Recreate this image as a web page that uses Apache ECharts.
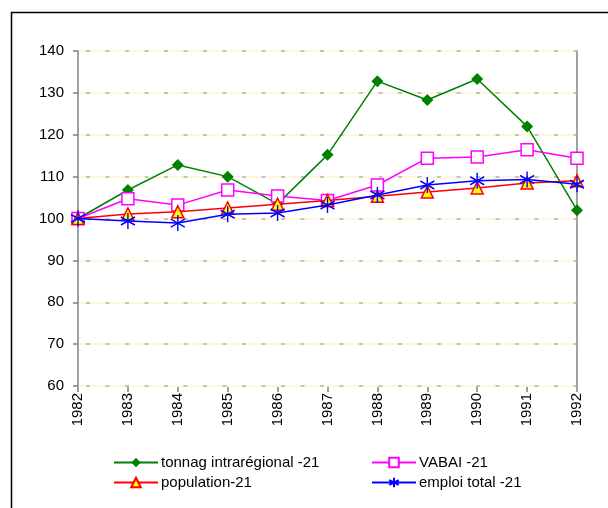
<!DOCTYPE html>
<html><head><meta charset="utf-8">
<script src="https://cdn.jsdelivr.net/npm/echarts@6/dist/echarts.min.js"></script>
<style>html,body{margin:0;padding:0;background:#fff}#c{width:608px;height:508px}</style>
</head><body><div id="c"></div>
<script>
const years = ['1982','1983','1984','1985','1986','1987','1988','1989','1990','1991','1992'];
const tonnag = [100, 106.8, 112.8, 110.0, 103.5, 115.2, 132.8, 128.3, 133.3, 122.0, 102.0];
const vabai = [100, 104.7, 103.2, 106.8, 105.4, 104.3, 108.0, 114.4, 114.7, 116.4, 114.4];
const population = [100, 101.1, 101.6, 102.5, 103.4, 104.3, 105.3, 106.3, 107.3, 108.5, 109.0];
const emploi = [100, 99.4, 98.9, 101.0, 101.3, 103.2, 105.6, 108.0, 109.0, 109.3, 108.2];
const names = ['tonnag intrarégional -21', 'VABAI -21', 'population-21', 'emploi total -21'];

const font = 'Liberation Sans, Arial, sans-serif';
const chart = echarts.init(document.getElementById('c'), null, {renderer: 'canvas'});
const star = 'path://M0,-10L0,10M-8.7,-5L8.7,5M-8.7,5L8.7,-5';
function legend(name, left, top) {
  return {data: [name], left: left, top: top, itemWidth: 44, itemHeight: 12, itemGap: 0,
    textStyle: {fontFamily: font, fontSize: 15, color: '#000', padding: [0,0,0,-2]}, padding: 0, selectedMode: false};
}
chart.setOption({
  animation: false,
  graphic: [{type: 'rect', shape: {x: 11.5, y: 12.5, width: 620, height: 520}, style: {fill: 'none', stroke: '#000', lineWidth: 1.5}, z: 100}],
  grid: {left: 78, right: 31, top: 51, bottom: 122},
  legend: [legend(names[0], 113, 455), legend(names[1], 371, 455), legend(names[2], 113, 475), legend(names[3], 371, 475)],
  xAxis: {type: 'category', data: years, boundaryGap: false,
    axisLine: {lineStyle: {color: '#808080', width: 1.5}},
    axisTick: {show: true, length: 6, alignWithLabel: true, lineStyle: {color: '#808080', width: 1.5}},
    axisLabel: {rotate: 90, fontFamily: font, fontSize: 15, color: '#000', margin: 7}},
  yAxis: [
    {type: 'value', min: 60, max: 140, interval: 10,
      axisLine: {show: true, lineStyle: {color: '#808080', width: 1.5}},
      axisTick: {show: true, length: 5, lineStyle: {color: '#808080', width: 1.5}},
      axisLabel: {fontFamily: font, fontSize: 15, color: '#000', margin: 14},
      splitLine: {show: true, lineStyle: {color: '#b4b4ac', width: 1.5, type: [4, 15.5], dashOffset: -8}}, z: 3},
    {type: 'value', min: 60, max: 140, interval: 10, position: 'right',
      axisLine: {show: true, lineStyle: {color: '#808080', width: 1.5}},
      axisTick: {show: false}, axisLabel: {show: false},
      splitLine: {show: true, lineStyle: {color: '#fff6dc', width: 2}}, z: 1}
  ],
  series: [
    {name: names[0], type: 'line', data: tonnag, symbol: 'diamond', symbolSize: 12, z: 4,
      lineStyle: {color: '#008000', width: 1.5}, itemStyle: {color: '#008000'}},
    {name: names[1], type: 'line', data: vabai, symbol: 'rect', symbolSize: 12, z: 5,
      lineStyle: {color: '#ff00ff', width: 1.5}, itemStyle: {color: '#fff', borderColor: '#ff00ff', borderWidth: 1.5}},
    {name: names[2], type: 'line', data: population, symbol: 'triangle', symbolSize: 12, z: 6,
      lineStyle: {color: '#ff0000', width: 1.5}, itemStyle: {color: '#ffff00', borderColor: '#ff0000', borderWidth: 1.5}},
    {name: names[3], type: 'line', data: emploi, symbol: star, symbolSize: [14, 16], z: 7,
      lineStyle: {color: '#0000ff', width: 1.5}, itemStyle: {color: 'none', borderColor: '#0000ff', borderWidth: 1.5}}
  ]
});
</script></body></html>
